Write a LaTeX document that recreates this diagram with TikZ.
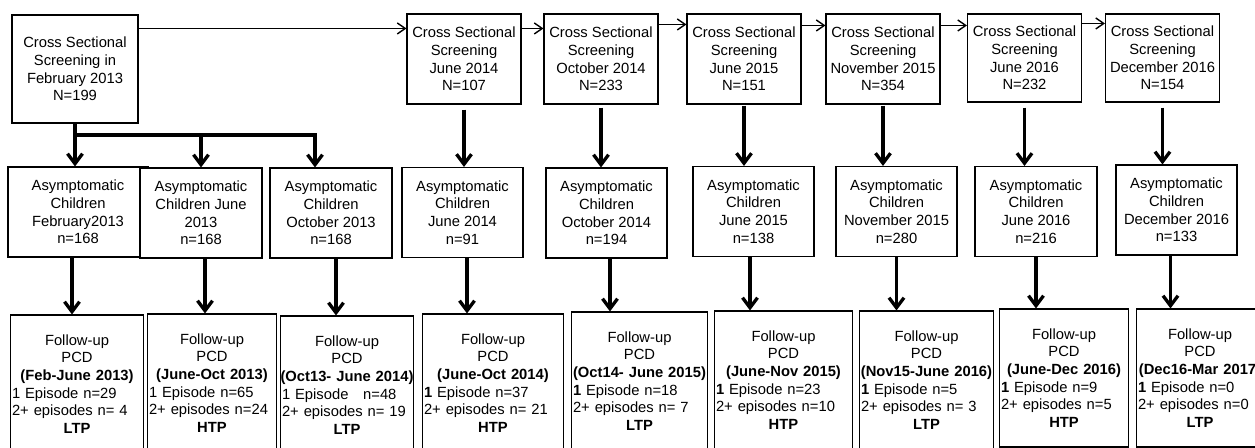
\documentclass[tikz,border=0pt]{standalone}
\usepackage{fontspec}
\setmainfont{Liberation Sans}
\usetikzlibrary{positioning,arrows.meta}

\tikzset{
  screenbox/.style={draw, line width=0.6pt, fill=white, align=center, inner sep=0pt,
                    minimum width=2.28cm, minimum height=1.8cm},
  childbox/.style={draw, line width=0.6pt, fill=white, align=center, inner sep=0pt,
                   minimum width=2.42cm, minimum height=1.8cm},
  pcdbox/.style={draw, line width=0.6pt, fill=white, align=center, inner xsep=0.6pt,
                 inner ysep=0pt, minimum height=2.76cm},
  thinarrow/.style={line width=0.8pt, -{Straight Barb[length=0.16cm, width=0.22cm]}},
  bigarrow/.style={line width=1.9pt, -{Straight Barb[length=0.2cm, width=0.3cm]}}
}
\newcommand{\epl}[1]{\makebox[\hsize][l]{#1}}
\newcommand{\dpl}[1]{\makebox[\hsize]{\textbf{#1}}}

\begin{document}
\begin{tikzpicture}[x=0.02cm, y=-0.02cm, font=\fontsize{8.4}{10}\selectfont]
    \useasboundingbox (0,0) rectangle (1255,448);
    \clip (0,0) rectangle (1255,448);

    % screening rounds
    \node[screenbox, minimum width=2.52cm, minimum height=2.16cm] (scrFeb13) at (75,69)
        {Cross Sectional\\Screening in\\February 2013\\N=199};
    \node[screenbox] (scrJun14) at (464,59) {Cross Sectional\\Screening\\June 2014\\N=107};
    \node[screenbox] (scrOct14) at (601,59) {Cross Sectional\\Screening\\October 2014\\N=233};
    \node[screenbox] (scrJun15) at (744,59) {Cross Sectional\\Screening\\June 2015\\N=151};
    \node[screenbox] (scrNov15) at (883,59) {Cross Sectional\\Screening\\November 2015\\N=354};
    \node[screenbox, minimum height=1.76cm] (scrJun16) at (1024.5,58) {Cross Sectional\\Screening\\June 2016\\N=232};
    \node[screenbox, minimum height=1.76cm] (scrDec16) at (1162.5,58) {Cross Sectional\\Screening\\December 2016\\N=154};

    % asymptomatic children
    \node[childbox, minimum width=2.8cm] (asyFeb13) at (78,212) {Asymptomatic\\Children\\February2013\\n=168};
    \node[childbox, minimum width=2.44cm] (asyJun13) at (201,213) {Asymptomatic\\Children June\\2013\\n=168};
    \node[childbox, minimum width=2.44cm] (asyOct13) at (331,213) {Asymptomatic\\Children\\October 2013\\n=168};
    \node[childbox] (asyJun14) at (462.5,212.5) {Asymptomatic\\Children\\June 2014\\n=91};
    \node[childbox] (asyOct14) at (606.5,213) {Asymptomatic\\Children\\October 2014\\n=194};
    \node[childbox] (asyJun15) at (753.5,211.5) {Asymptomatic\\Children\\June 2015\\n=138};
    \node[childbox] (asyNov15) at (896.5,211.5) {Asymptomatic\\Children\\November 2015\\n=280};
    \node[childbox, minimum width=2.44cm] (asyJun16) at (1036,211.5) {Asymptomatic\\Children\\June 2016\\n=216};
    \node[childbox] (asyDec16) at (1176.5,210) {Asymptomatic\\Children\\December 2016\\n=133};

    % follow-up
    \node[pcdbox, text width=2.6cm] (pcdFeb13) at (77,384)
        {Follow-up\\PCD\\\dpl{(Feb-June 2013)}\\\epl{1 Episode n=29}\\\epl{2+ episodes n= 4}\\\textbf{LTP}};
    \node[pcdbox, text width=2.52cm] (pcdJun13) at (212,383)
        {Follow-up\\PCD\\\dpl{(June-Oct 2013)}\\\epl{1 Episode n=65}\\\epl{2+ episodes n=24}\\\textbf{HTP}};
    \node[pcdbox, text width=2.6cm] (pcdOct13) at (347,385)
        {Follow-up\\PCD\\\dpl{(Oct13- June 2014)}\\\epl{1 Episode \ \ n=48}\\\epl{2+ episodes n= 19}\\\textbf{LTP}};
    \node[pcdbox, text width=2.76cm] (pcdJun14) at (493,383)
        {Follow-up\\PCD\\\dpl{(June-Oct 2014)}\\\epl{\textbf{1} Episode n=37}\\\epl{2+ episodes n= 21}\\\textbf{HTP}};
    \node[pcdbox, text width=2.66cm] (pcdOct14) at (639.5,381)
        {Follow-up\\PCD\\\dpl{(Oct14- June 2015)}\\\epl{\textbf{1} Episode n=18}\\\epl{2+ episodes n= 7}\\\textbf{LTP}};
    \node[pcdbox, text width=2.7cm] (pcdJun15) at (783.5,380)
        {Follow-up\\PCD\\\dpl{(June-Nov 2015)}\\\epl{\textbf{1} Episode n=23}\\\epl{2+ episodes n=10}\\\textbf{HTP}};
    \node[pcdbox, text width=2.62cm] (pcdNov15) at (926.5,380)
        {Follow-up\\PCD\\\dpl{(Nov15-June 2016)}\\\epl{\textbf{1} Episode n=5}\\\epl{2+ episodes n= 3}\\\textbf{LTP}};
    \node[pcdbox, text width=2.52cm] (pcdJun16) at (1064,378)
        {Follow-up\\PCD\\\dpl{(June-Dec 2016)}\\\epl{\textbf{1} Episode n=9}\\\epl{2+ episodes n=5}\\\textbf{HTP}};
    \node[pcdbox, text width=2.48cm] (pcdDec16) at (1200,378)
        {Follow-up\\PCD\\\dpl{(Dec16-Mar 2017)}\\\epl{\textbf{1} Episode n=0}\\\epl{2+ episodes n=0}\\\textbf{LTP}};

    % arrows between screening rounds
    \coordinate (h1) at ([yshift=-0.28cm]scrFeb13.north east);
    \coordinate (h2) at ([yshift=-0.3cm]scrJun14.north east);
    \coordinate (h3) at ([yshift=-0.22cm]scrOct14.north east);
    \coordinate (h4) at ([yshift=-0.24cm]scrJun15.north east);
    \coordinate (h5) at ([yshift=-0.24cm]scrNov15.north east);
    \coordinate (h6) at ([yshift=-0.2cm]scrJun16.north east);
    \draw[thinarrow] (h1) -- (h1 -| scrJun14.west);
    \draw[thinarrow] (h2) -- (h2 -| scrOct14.west);
    \draw[thinarrow] (h3) -- (h3 -| scrJun15.west);
    \draw[thinarrow] (h4) -- (h4 -| scrNov15.west);
    \draw[thinarrow] (h5) -- (h5 -| scrJun16.west);
    \draw[thinarrow] (h6) -- (h6 -| scrDec16.west);

    % first round splits in three
    \coordinate (br) at (315,135);
    \draw[bigarrow] (scrFeb13.south) -- (scrFeb13.south |- asyFeb13.north);
    \draw[bigarrow] (scrFeb13.south |- br) -- (br) -- (br |- asyOct13.north);
    \draw[bigarrow] (asyJun13.north |- br) -- (asyJun13.north);

    % screening to children
    \draw[bigarrow, shorten <=0.1cm] (scrJun14.south) -- (scrJun14.south |- asyJun14.north);
    \draw[bigarrow, shorten <=0.06cm] (scrOct14.south) -- (scrOct14.south |- asyOct14.north);
    \draw[bigarrow, shorten <=0.02cm] (scrJun15.south) -- (scrJun15.south |- asyJun15.north);
    \draw[bigarrow, shorten <=0.02cm] (scrNov15.south) -- (scrNov15.south |- asyNov15.north);
    \draw[bigarrow, shorten <=0.1cm] (scrJun16.south) -- (scrJun16.south |- asyJun16.north);
    \draw[bigarrow, shorten <=0.1cm] (scrDec16.south) -- (scrDec16.south |- asyDec16.north);

    % children to follow-up
    \draw[bigarrow] ([xshift=-0.12cm]asyFeb13.south) -- ([xshift=-0.12cm]asyFeb13.south |- pcdFeb13.north);
    \draw[bigarrow] ([xshift=0.08cm]asyJun13.south) -- ([xshift=0.08cm]asyJun13.south |- pcdJun13.north);
    \draw[bigarrow] ([xshift=0.1cm]asyOct13.south) -- ([xshift=0.1cm]asyOct13.south |- pcdOct13.north);
    \draw[bigarrow] ([xshift=0.09cm]asyJun14.south) -- ([xshift=0.09cm]asyJun14.south |- pcdJun14.north);
    \draw[bigarrow] ([xshift=0.07cm]asyOct14.south) -- ([xshift=0.07cm]asyOct14.south |- pcdOct14.north);
    \draw[bigarrow] ([xshift=-0.07cm]asyJun15.south) -- ([xshift=-0.07cm]asyJun15.south |- pcdJun15.north);
    \draw[bigarrow] (asyNov15.south) -- (asyNov15.south |- pcdNov15.north);
    \draw[bigarrow] (asyJun16.south) -- (asyJun16.south |- pcdJun16.north);
    \draw[bigarrow] ([xshift=-0.12cm]asyDec16.south) -- ([xshift=-0.12cm]asyDec16.south |- pcdDec16.north);
\end{tikzpicture}
\end{document}
